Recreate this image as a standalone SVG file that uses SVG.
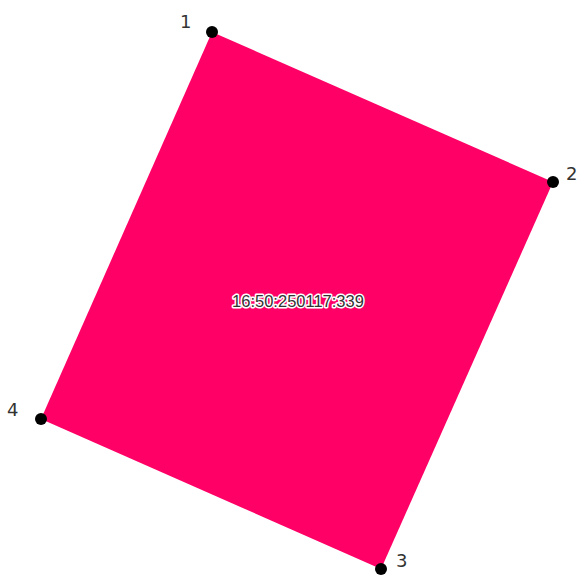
<svg xmlns="http://www.w3.org/2000/svg" width="580" height="575" viewBox="0 0 580 575">
<style>
.v{fill:#000}
.lbl{font-family:"DejaVu Sans","Liberation Sans",sans-serif;font-size:18px;fill:#333}
.c{font-family:"Liberation Sans",Arial,sans-serif;font-size:16.5px;fill:#333;stroke:#fff;stroke-width:3;paint-order:stroke;stroke-linejoin:round;text-anchor:middle}
</style>
<rect width="580" height="575" fill="#fff"/>
<g id="shape">
<polygon points="212,32 553,182 381,569 41,419" fill="#ff0066"/>
<text class="c" x="298" y="307">16:50:250117:339</text>
</g>
<g id="v1"><circle class="v" cx="212" cy="32" r="6"/><text class="lbl" x="180" y="28">1</text></g>
<g id="v2"><circle class="v" cx="553" cy="182" r="6"/><text class="lbl" x="566" y="180">2</text></g>
<g id="v3"><circle class="v" cx="381" cy="569" r="6"/><text class="lbl" x="396" y="567">3</text></g>
<g id="v4"><circle class="v" cx="41" cy="419" r="6"/><text class="lbl" x="7" y="416">4</text></g>
</svg>
